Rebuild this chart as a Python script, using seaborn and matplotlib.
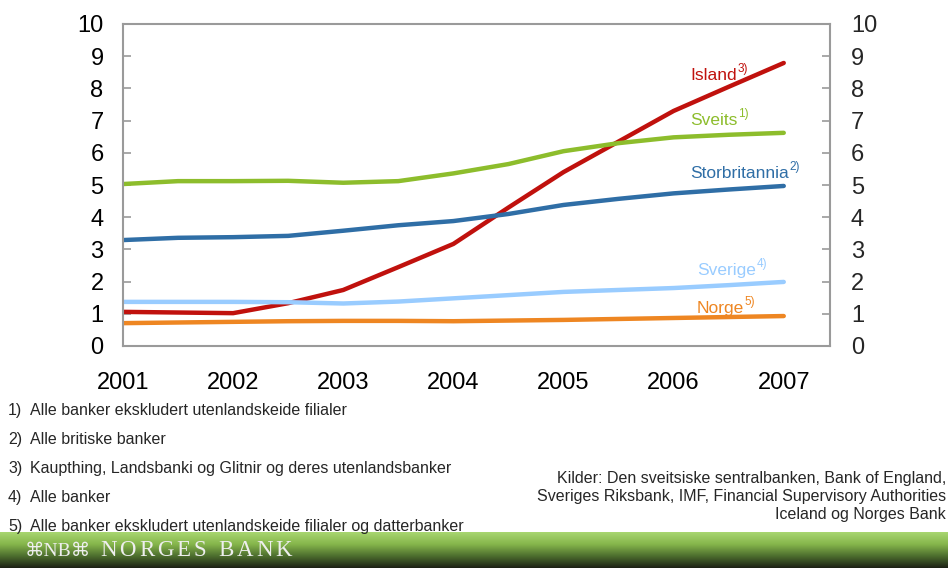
import numpy as np
import pandas as pd
import seaborn as sns
import matplotlib.pyplot as plt
from matplotlib.colors import LinearSegmentedColormap

# Data (half-year points)
aar = [2001.0, 2001.5, 2002.0, 2002.5, 2003.0, 2003.5, 2004.0, 2004.5,
       2005.0, 2005.5, 2006.0, 2006.5, 2007.0]
island = [1.06, 1.04, 1.02, 1.33, 1.74, 2.45, 3.17, 4.30, 5.40, 6.35, 7.30, 8.05, 8.79]
sveits = [5.03, 5.12, 5.12, 5.13, 5.07, 5.12, 5.36, 5.65, 6.05, 6.30, 6.48, 6.56, 6.62]
storbritannia = [3.29, 3.36, 3.38, 3.42, 3.58, 3.75, 3.88, 4.10, 4.38, 4.57, 4.74, 4.86, 4.97]
sverige = [1.37, 1.37, 1.37, 1.36, 1.32, 1.38, 1.48, 1.58, 1.68, 1.74, 1.80, 1.89, 1.99]
norge = [0.71, 0.73, 0.75, 0.77, 0.78, 0.78, 0.77, 0.79, 0.81, 0.84, 0.87, 0.90, 0.93]

serier = ["Island", "Sveits", "Storbritannia", "Sverige", "Norge"]
fotnoter = ["3)", "1)", "2)", "4)", "5)"]
farger = ["#c0110d", "#8dbd2c", "#2f6ea6", "#99ccff", "#ee8622"]
etikett_y = [8.26, 6.86, 5.22, 2.2, 1.02]
etikett_x = [2006.15, 2006.15, 2006.15, 2006.21, 2006.21]

xticks = [2001, 2002, 2003, 2004, 2005, 2006, 2007]
yticks = list(range(0, 11))

noter = ["Alle banker ekskludert utenlandskeide filialer",
         "Alle britiske banker",
         "Kaupthing, Landsbanki og Glitnir og deres utenlandsbanker",
         "Alle banker",
         "Alle banker ekskludert utenlandskeide filialer og datterbanker"]
kilder = ("Kilder: Den sveitsiske sentralbanken, Bank of England,\n"
          "Sveriges Riksbank, IMF, Financial Supervisory Authorities\n"
          "Iceland og Norges Bank")

df = pd.DataFrame({"aar": aar, "Island": island, "Sveits": sveits,
                   "Storbritannia": storbritannia, "Sverige": sverige, "Norge": norge})
df_lang = df.melt(id_vars="aar", var_name="land", value_name="verdi")

sns.set_style("white")
plt.rcParams["font.family"] = ["Liberation Sans", "DejaVu Sans"]

fig = plt.figure(figsize=(9.48, 5.68), dpi=100)
ax = fig.add_axes([123 / 948, 1 - 346 / 568, 707 / 948, 322 / 568])

sns.lineplot(data=df_lang, x="aar", y="verdi", hue="land", hue_order=serier,
             palette=farger, linewidth=3.2, legend=False, ax=ax)

ax.set_xlim(2001, 2007.42)
ax.set_ylim(0, 10)
ax.set_xticks(xticks)
ax.set_xticklabels([str(x) for x in xticks])
ax.set_yticks(yticks)
ax.set_xlabel("")
ax.set_ylabel("")
for s in ax.spines.values():
    s.set_color("#9a9a9a")
    s.set_linewidth(1.5)
ax.tick_params(axis="both", direction="in", length=6, width=1.2, color="#9a9a9a",
               labelsize=17, labelcolor="black")
ax.tick_params(axis="x", pad=19)
ax.tick_params(axis="y", pad=14, left=True)

ax2 = ax.twinx()
ax2.set_ylim(0, 10)
ax2.set_yticks(yticks)
ax2.tick_params(axis="y", direction="in", length=6, width=1.2, color="#9a9a9a",
                labelsize=17, pad=15, right=True)
for s in ax2.spines.values():
    s.set_visible(False)

# Line labels with superscript footnote marks
fig.canvas.draw()
renderer = fig.canvas.get_renderer()
for navn, note, farge, lx, ly in zip(serier, fotnoter, farger, etikett_x, etikett_y):
    t = ax.text(lx, ly, navn, color=farge, fontsize=12.5, va="baseline")
    bb = t.get_window_extent(renderer=renderer)
    fig.text(bb.x1 / fig.dpi / fig.get_figwidth() + 0.001,
             (bb.y0 + 11) / fig.dpi / fig.get_figheight(),
             note, color=farge, fontsize=8.5, va="baseline")

# Footnotes
for i, tekst in enumerate(noter):
    y = 1 - (415 + 29 * i) / 568
    fig.text(8 / 948, y, f"{i + 1})", fontsize=11.5, va="baseline")
    fig.text(30 / 948, y, tekst, fontsize=11.5, va="baseline")

fig.text(946 / 948, 1 - 496 / 568, kilder, fontsize=11.5, ha="right", va="center",
         linespacing=1.25)

# Banner at the bottom
bax = fig.add_axes([0, 0, 1, 36 / 568])
cmap = LinearSegmentedColormap.from_list("banner", ["#a8d670", "#86b64c", "#4d6e2e", "#1c2215"])
grad = np.linspace(0, 1, 100).reshape(-1, 1)
bax.imshow(grad, aspect="auto", cmap=cmap, extent=[0, 1, 0, 1])
bax.set_axis_off()
bax.text(25 / 948, 0.45, "\u2318NB\u2318", color="#eeeeee", fontsize=14,
         va="center", ha="left", family=["Liberation Serif", "DejaVu Sans"],
         transform=bax.transAxes)

# Letter-spaced bank name
x_px = 100
fig.canvas.draw()
for bokstav in "NORGES BANK":
    t = fig.text(x_px / 948, 18 / 568, bokstav, color="#eeeeee", fontsize=16.5,
                 va="center", ha="left", family=["Liberation Serif", "DejaVu Serif"])
    w = t.get_window_extent(renderer=fig.canvas.get_renderer()).width
    x_px += w + 3

fig.savefig("out.png", dpi=100)
